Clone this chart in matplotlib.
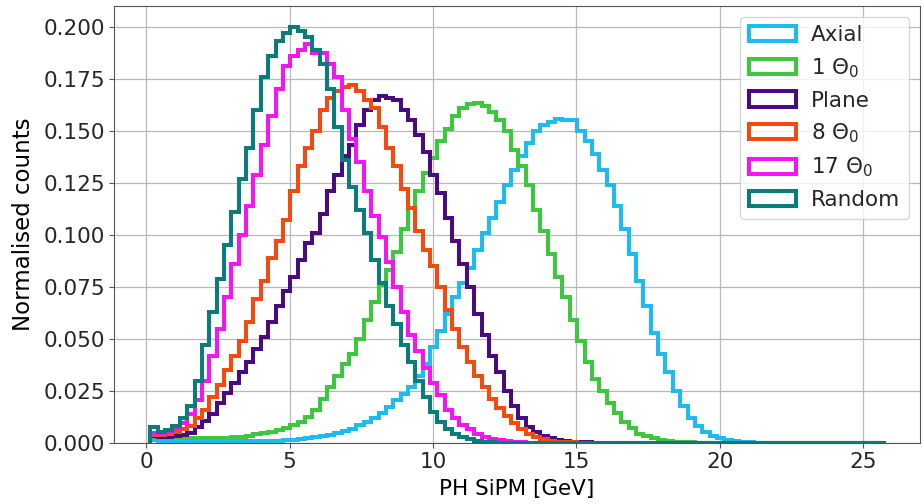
import numpy as np
import matplotlib
matplotlib.use("Agg")
import matplotlib.pyplot as plt

# bin edges of the PH SiPM histograms [GeV]
n_bins = 100
edges = np.linspace(0.15, 25.8, n_bins + 1)

labels = ["Axial", r"1 $\Theta_0$", "Plane", r"8 $\Theta_0$", r"17 $\Theta_0$", "Random"]
colors = ["#1cbcf0", "#3cc83c", "#4a0a82", "#f44a10", "#f414f4", "#0a7c7c"]

# normalised counts per bin (trailing bins are empty)
axial = [
    0.0015, 0.0012, 0.0010, 0.0009, 0.0008, 0.0008, 0.0007, 0.0007, 0.0007, 0.0007,
    0.0008, 0.0008, 0.0008, 0.0009, 0.0009, 0.0010, 0.0011, 0.0012, 0.0014, 0.0016,
    0.0019, 0.0023, 0.0027, 0.0032, 0.0038, 0.0046, 0.0056, 0.0068, 0.0085, 0.0102,
    0.0122, 0.0145, 0.0175, 0.0205, 0.0235, 0.0270, 0.032, 0.038, 0.046, 0.054,
    0.062, 0.070, 0.077, 0.084, 0.093, 0.101, 0.108, 0.116, 0.124, 0.131,
    0.138, 0.144, 0.150, 0.153, 0.1545, 0.1555, 0.1553, 0.1553, 0.150, 0.145,
    0.139, 0.131, 0.124, 0.114, 0.103, 0.091, 0.078, 0.066, 0.053, 0.043,
    0.034, 0.025, 0.018, 0.012, 0.0082, 0.0055, 0.0035, 0.0022, 0.0013, 0.0008,
    0.0005, 0.0003, 0.0002, 0.0001, 0.0001,
]
theta1 = [
    0.0050, 0.0040, 0.0034, 0.0030, 0.0027, 0.0025, 0.0024, 0.0023, 0.0023, 0.0024,
    0.0025, 0.0027, 0.0030, 0.0035, 0.0042, 0.0048, 0.0055, 0.0063, 0.0072, 0.0085,
    0.0100, 0.0125, 0.016, 0.021, 0.027, 0.032, 0.038, 0.043, 0.050, 0.059,
    0.068, 0.076, 0.083, 0.092, 0.103, 0.113, 0.121, 0.130, 0.137, 0.145,
    0.151, 0.157, 0.161, 0.163, 0.1636, 0.162, 0.159, 0.155, 0.150, 0.141,
    0.133, 0.124, 0.112, 0.102, 0.091, 0.080, 0.070, 0.059, 0.049, 0.039,
    0.031, 0.025, 0.019, 0.0145, 0.010, 0.0072, 0.0045, 0.0032, 0.0022, 0.0015,
    0.0010, 0.0007, 0.0005, 0.0003, 0.0002, 0.0001,
]
plane = [
    0.0035, 0.0030, 0.0030, 0.0032, 0.0040, 0.0050, 0.0075, 0.0105, 0.014, 0.019,
    0.024, 0.029, 0.034, 0.039, 0.045, 0.051, 0.058, 0.066, 0.073, 0.080,
    0.088, 0.096, 0.101, 0.110, 0.121, 0.129, 0.138, 0.143, 0.153, 0.160,
    0.165, 0.167, 0.166, 0.165, 0.160, 0.155, 0.148, 0.140, 0.129, 0.120,
    0.108, 0.097, 0.086, 0.075, 0.062, 0.052, 0.042, 0.034, 0.025, 0.018,
    0.012, 0.0078, 0.0053, 0.0035, 0.0023, 0.0014, 0.0009, 0.0006, 0.0004, 0.0003,
    0.0002, 0.0001,
]
theta8 = [
    0.0040, 0.0040, 0.0045, 0.0052, 0.0065, 0.0080, 0.0120, 0.016, 0.022, 0.028,
    0.035, 0.042, 0.049, 0.058, 0.069, 0.078, 0.089, 0.097, 0.107, 0.121,
    0.133, 0.142, 0.150, 0.160, 0.166, 0.169, 0.171, 0.172, 0.169, 0.165,
    0.161, 0.152, 0.142, 0.133, 0.122, 0.113, 0.102, 0.093, 0.085, 0.075,
    0.064, 0.055, 0.046, 0.039, 0.032, 0.027, 0.021, 0.017, 0.013, 0.0095,
    0.0068, 0.0045, 0.0030, 0.0018, 0.0011, 0.0007, 0.0005, 0.0003, 0.0002, 0.0001,
]
theta17 = [
    0.0050, 0.0050, 0.0060, 0.0071, 0.0095, 0.0140, 0.0205, 0.030, 0.042, 0.055,
    0.070, 0.086, 0.100, 0.114, 0.129, 0.143, 0.157, 0.170, 0.181, 0.186,
    0.189, 0.192, 0.1875, 0.1875, 0.182, 0.176, 0.160, 0.146, 0.135, 0.121,
    0.109, 0.099, 0.087, 0.075, 0.063, 0.052, 0.044, 0.036, 0.029, 0.023,
    0.016, 0.012, 0.0088, 0.0065, 0.0045, 0.0030, 0.0020, 0.0013, 0.0008, 0.0005,
    0.0003, 0.0002,
]
random_ = [
    0.0077, 0.0055, 0.0062, 0.0080, 0.0118, 0.0180, 0.030, 0.047, 0.063, 0.079,
    0.095, 0.111, 0.127, 0.142, 0.160, 0.176, 0.186, 0.193, 0.197, 0.200,
    0.198, 0.195, 0.189, 0.182, 0.170, 0.152, 0.136, 0.123, 0.112, 0.101,
    0.088, 0.077, 0.066, 0.057, 0.047, 0.039, 0.030, 0.022, 0.015, 0.010,
    0.0065, 0.0042, 0.0027, 0.0017, 0.0011, 0.0007, 0.0004, 0.0002, 0.0001,
]

series = [axial, theta1, plane, theta8, theta17, random_]


def pad(values):
    return list(values) + [0.0] * (n_bins - len(values))


fs = 15.5
plt.rcParams["font.size"] = fs
plt.rcParams["text.color"] = "#262626"
plt.rcParams["xtick.labelcolor"] = "#262626"
plt.rcParams["ytick.labelcolor"] = "#262626"

fig = plt.figure(figsize=(9.23, 5.04), dpi=100)
ax = fig.add_axes([0.1235, 0.121, 0.873, 0.867])

centers = 0.5 * (edges[:-1] + edges[1:])
for vals, lab, col in zip(series, labels, colors):
    ax.hist(centers, bins=edges, weights=pad(vals), histtype="step",
            color=col, lw=2.9, label=lab)

ax.set_xlim(-1.12, 26.97)
ax.set_ylim(0, 0.21)
ax.set_xticks([0, 5, 10, 15, 20, 25])
ax.set_yticks(np.arange(0, 0.201, 0.025))
ax.yaxis.set_major_formatter(matplotlib.ticker.FormatStrFormatter("%.3f"))
ax.grid(True, color="#b8b8b8", lw=0.9)
ax.set_axisbelow(True)
for sp in ax.spines.values():
    sp.set_color("#555555")
ax.tick_params(labelsize=fs, color="#555555", pad=3)
ax.set_xlabel("PH SiPM [GeV]", fontsize=fs, labelpad=5)
ax.set_ylabel("Normalised counts", fontsize=16.5, labelpad=6)
ax.legend(loc="upper right", fontsize=fs, handlelength=2.2, handletextpad=0.7,
          labelspacing=0.5, borderaxespad=0.5)

fig.savefig("out.png", dpi=100)
